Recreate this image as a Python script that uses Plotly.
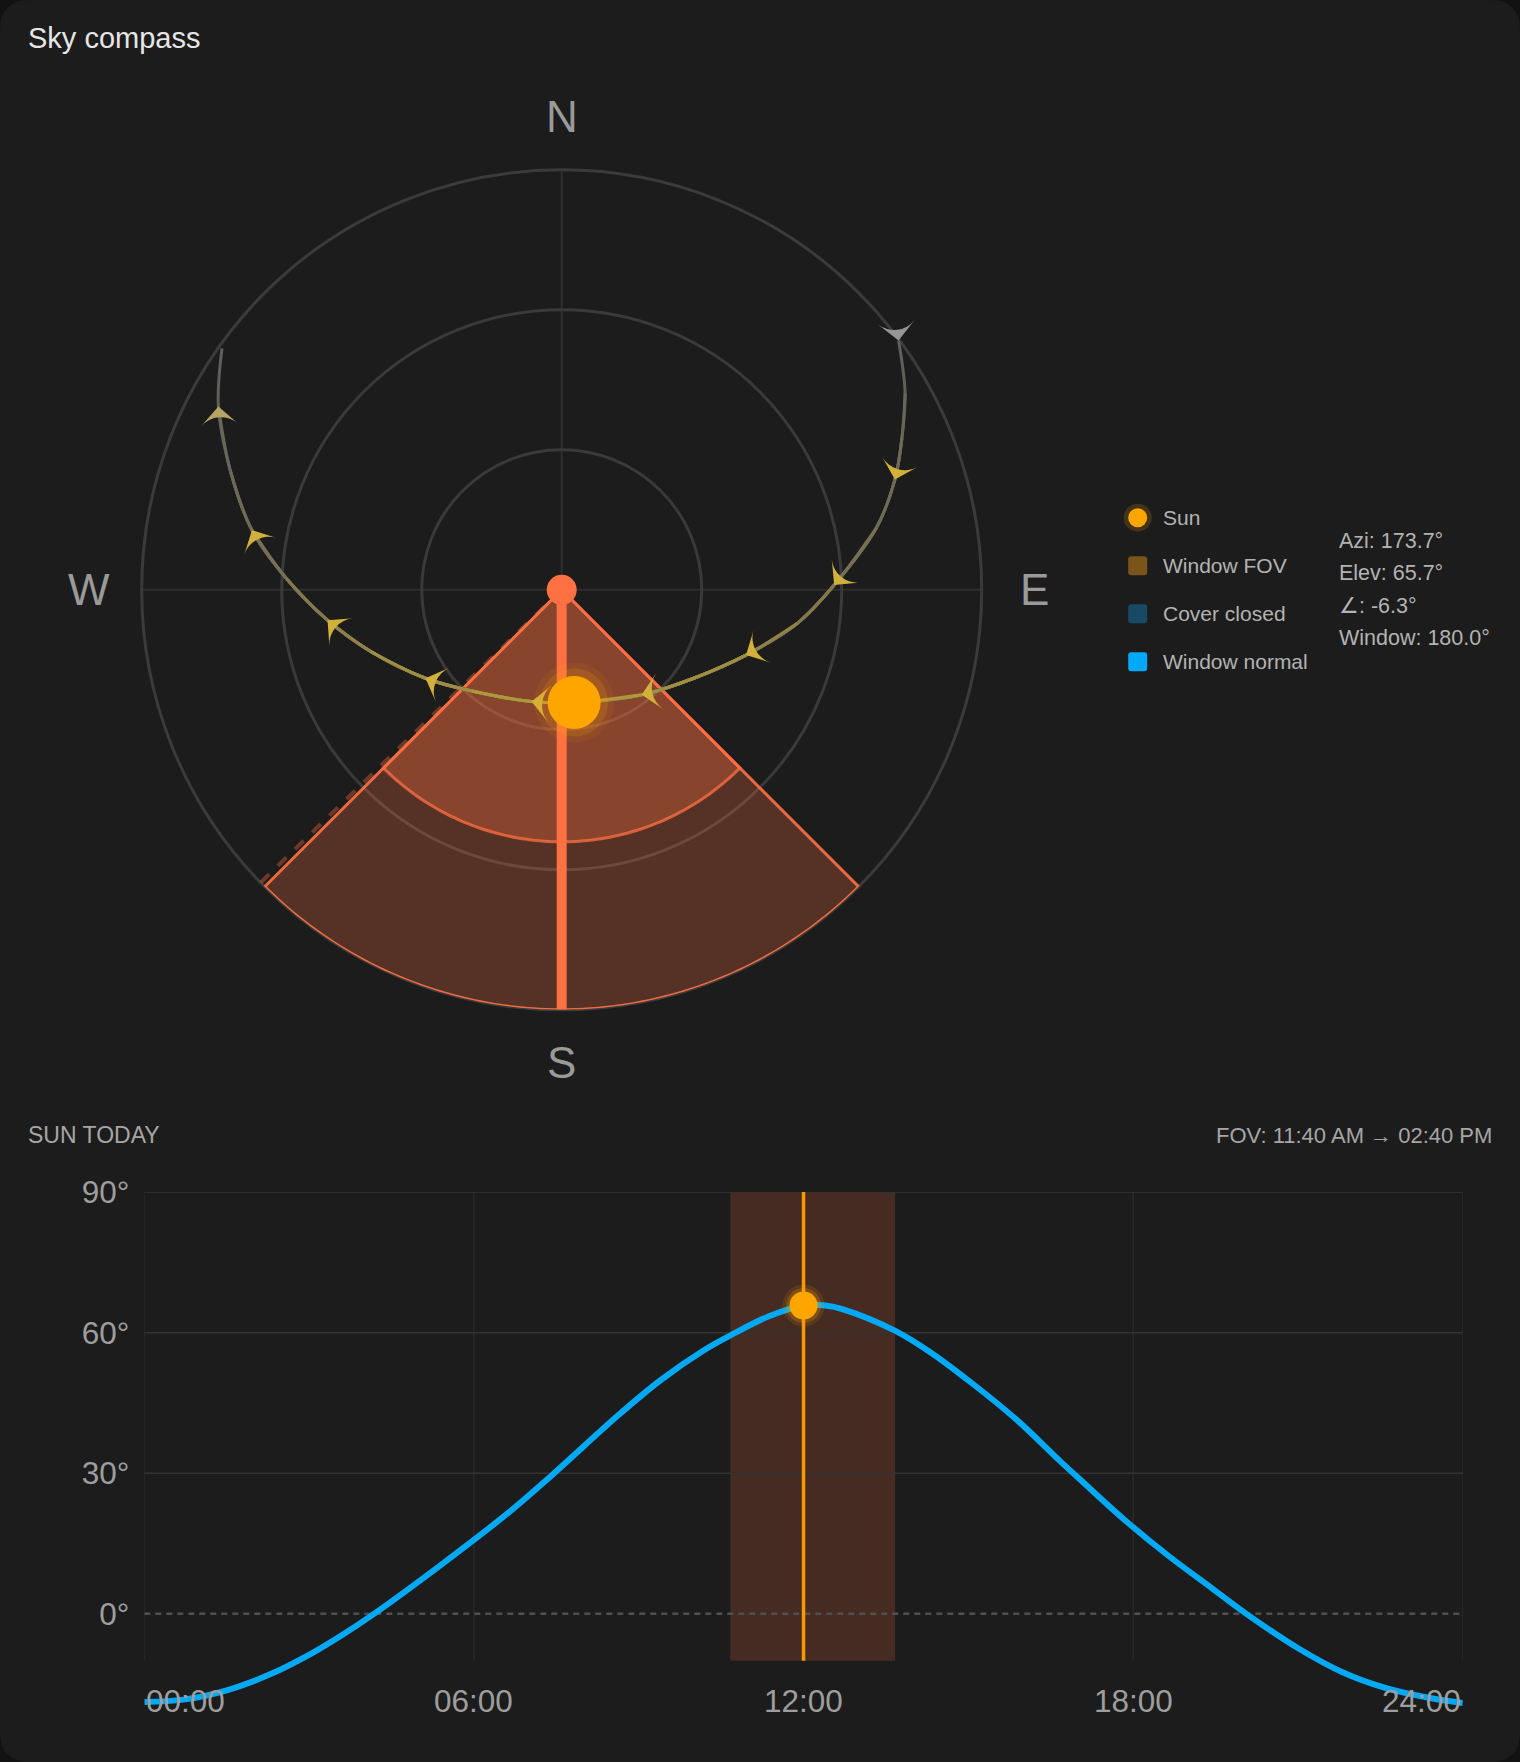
import numpy as np
import plotly.graph_objects as go

W, H = 1520, 1762

# ---------------- data ----------------
title_text = "Sky compass"
sun_az = 173.7
sun_elev = 65.7
rel_angle = -6.3
window_az = 180.0
fov_half = 45.0
fov_inner_elev = 36.0
cover_edge_az = 225.8

compass_labels = ["N", "E", "S", "W"]
compass_angles = [0, 90, 180, 270]

# sun path across the sky (azimuth deg, elevation deg) read from the compass
path_az = [53.5, 60.2, 66.0, 71.7, 78.9, 89.0, 98.1, 109.5, 123.0, 142.7, 173.5,
           195.1, 221.6, 237.0, 252.1, 262.6, 272.3, 280.9, 289.6, 298.1, 305.4]
path_elev = [0.2, 5.2, 10.2, 14.8, 21.3, 31.6, 39.0, 48.1, 55.6, 61.7, 65.7,
             65.2, 61.0, 55.2, 47.0, 39.4, 31.0, 22.4, 14.7, 6.6, 0.7]
arrow_idx = [0, 3, 5, 7, 9, 11, 13, 15, 17, 19]

# elevation over the day
day_hours = [0.0, 0.71, 1.50, 2.29, 3.08, 3.63, 4.18, 5.45, 6.63, 7.42, 8.60, 9.39,
             10.18, 10.68, 11.37, 12.0, 12.4, 12.72, 13.67, 14.30, 15.09, 15.88, 16.67,
             17.06, 17.85, 18.64, 19.43, 20.06, 21.01, 21.80, 22.59, 23.38, 24.0]
day_elev = [-18.8, -18.3, -16.3, -12.9, -8.2, -4.3, 0.0, 10.9, 21.6, 29.6, 42.1, 49.8,
            56.2, 59.5, 63.5, 65.8, 65.8, 65.0, 60.4, 55.9, 49.0, 41.4, 32.6,
            28.4, 20.0, 12.4, 5.5, 0.0, -7.4, -12.4, -15.8, -17.9, -19.0]
now_hour = 12.0
fov_start_h = 10.667
fov_end_h = 13.667
fov_text = "FOV: 11:40 AM \u2192 02:40 PM"

x_tick_hours = [0, 6, 12, 18, 24]
x_tick_labels = ["00:00", "06:00", "12:00", "18:00", "24:00"]
y_tick_vals = [0, 30, 60, 90]
y_tick_labels = ["0\u00b0", "30\u00b0", "60\u00b0", "90\u00b0"]

legend_names = ["Sun", "Window FOV", "Cover closed", "Window normal"]
legend_colors = ["#ffa500", "#7a5418", "#184a64", "#03a9f4"]
stats_lines = [f"Azi: {sun_az:.1f}\u00b0", f"Elev: {sun_elev:.1f}\u00b0",
               f"\u2220: {rel_angle:.1f}\u00b0", f"Window: {window_az:.1f}\u00b0"]

# ---------------- helpers ----------------
FONT = "Liberation Sans, Arial, sans-serif"
CX, CY, R = 561.7, 589.8, 420.0   # compass centre / radius in page pixels


def px(x):
    return x / W


def py(y):
    return 1 - y / H


def zen(e):
    return 90 - np.asarray(e, dtype=float)


def lerp(c1, c2, t):
    t = float(np.clip(t, 0, 1))
    return "rgb(%d,%d,%d)" % tuple(round(a + (b - a) * t) for a, b in zip(c1, c2))


def rrect_path(x0, y0, x1, y1, r):
    X = lambda v: px(v)
    Y = lambda v: py(v)
    return (f"M{X(x0 + r)},{Y(y0)} L{X(x1 - r)},{Y(y0)} Q{X(x1)},{Y(y0)} {X(x1)},{Y(y0 + r)} "
            f"L{X(x1)},{Y(y1 - r)} Q{X(x1)},{Y(y1)} {X(x1 - r)},{Y(y1)} "
            f"L{X(x0 + r)},{Y(y1)} Q{X(x0)},{Y(y1)} {X(x0)},{Y(y1 - r)} "
            f"L{X(x0)},{Y(y0 + r)} Q{X(x0)},{Y(y0)} {X(x0 + r)},{Y(y0)} Z")


fig = go.Figure()
CORAL = "#ff7043"

# ---------------- compass ----------------
arc = np.linspace(window_az - fov_half, window_az + fov_half, 91)
fig.add_trace(go.Scatterpolar(r=[0, 90], theta=[cover_edge_az, cover_edge_az], mode="lines",
                              line=dict(color="rgba(255,112,67,0.35)", width=4, dash="dash"),
                              subplot="polar", hoverinfo="skip", showlegend=False))
fig.add_trace(go.Scatterpolar(
    r=np.concatenate([[0], np.full(arc.size, 90.0), [0]]),
    theta=np.concatenate([[window_az], arc, [window_az]]),
    mode="lines", fill="toself", fillcolor="rgba(255,112,67,0.26)",
    line=dict(color="rgba(255,112,67,0.9)", width=3),
    subplot="polar", hoverinfo="skip", showlegend=False))
fig.add_trace(go.Scatterpolar(
    r=np.concatenate([[0], np.full(arc.size, float(zen(fov_inner_elev))), [0]]),
    theta=np.concatenate([[window_az], arc, [window_az]]),
    mode="lines", fill="toself", fillcolor="rgba(255,112,67,0.30)",
    line=dict(color="rgba(255,112,67,0.75)", width=3),
    subplot="polar", hoverinfo="skip", showlegend=False))

GREY = (95, 95, 92)
GOLD = (175, 152, 58)
pe = np.array(path_elev)
for thr in [-1, 5, 10, 16, 24, 34, 46, 58]:
    idx = np.where(pe >= thr)[0]
    fig.add_trace(go.Scatterpolar(
        r=zen(pe[idx]), theta=np.array(path_az)[idx], mode="lines",
        line=dict(color=lerp(GREY, GOLD, (thr + 2) / 60), width=3, shape="spline"),
        subplot="polar", hoverinfo="skip", showlegend=False))

paz = np.radians(path_az)
pr = zen(path_elev)
sx, sy = pr * np.sin(paz), pr * np.cos(paz)
angles, acolors = [], []
for i in arrow_idx:
    a, b = max(i - 1, 0), min(i + 1, len(path_az) - 1)
    angles.append(float(np.degrees(np.arctan2(sx[b] - sx[a], sy[b] - sy[a]))))
    acolors.append(lerp((150, 150, 150), (210, 176, 60), path_elev[i] / 12))
fig.add_trace(go.Scatterpolar(
    r=pr[arrow_idx], theta=np.array(path_az)[arrow_idx], mode="markers",
    marker=dict(symbol="arrow-wide", size=26, angle=angles, color=acolors, line=dict(width=0)),
    subplot="polar", hoverinfo="skip", showlegend=False))

fig.add_trace(go.Scatterpolar(r=[0, 90], theta=[window_az, window_az], mode="lines",
                              line=dict(color=CORAL, width=10), subplot="polar",
                              hoverinfo="skip", showlegend=False))
fig.add_trace(go.Scatterpolar(r=[0], theta=[window_az], mode="markers",
                              marker=dict(color=CORAL, size=30, line=dict(width=0)),
                              subplot="polar", hoverinfo="skip", showlegend=False))
for sz, col in [(80, "rgba(255,165,0,0.08)"), (68, "rgba(255,165,0,0.16)"), (53, "#ffa500")]:
    fig.add_trace(go.Scatterpolar(r=[float(zen(sun_elev))], theta=[sun_az], mode="markers",
                                  marker=dict(color=col, size=sz, line=dict(width=0)),
                                  subplot="polar", hoverinfo="skip", showlegend=False))

# ---------------- day chart ----------------
fig.add_trace(go.Scatter(x=day_hours, y=day_elev, mode="lines",
                         line=dict(color="#03a9f4", width=6, shape="spline", smoothing=1.0),
                         hoverinfo="skip", showlegend=False))
now_elev = float(np.interp(now_hour, day_hours, day_elev))
for sz, col in [(42, "rgba(255,165,0,0.12)"), (35, "rgba(255,165,0,0.22)"), (28, "#ffa500")]:
    fig.add_trace(go.Scatter(x=[now_hour], y=[now_elev], mode="markers",
                             marker=dict(color=col, size=sz, line=dict(width=0)),
                             hoverinfo="skip", showlegend=False))

shapes = []
shapes.append(dict(type="path", xref="paper", yref="paper", path=rrect_path(0, 0, W, H, 30),
                   fillcolor="#1c1c1c", line=dict(width=0), layer="below"))
shapes.append(dict(type="rect", xref="x", yref="y", x0=fov_start_h, x1=fov_end_h, y0=-10, y1=90,
                   fillcolor="rgba(255,112,67,0.185)", line=dict(width=0), layer="below"))
for h in x_tick_hours:
    shapes.append(dict(type="line", xref="x", yref="y", x0=h, x1=h, y0=-10, y1=90,
                       line=dict(color="#292929", width=1.5), layer="below"))
for v in y_tick_vals[1:]:
    shapes.append(dict(type="line", xref="x", yref="y", x0=0, x1=24, y0=v, y1=v,
                       line=dict(color="#333333", width=1.5), layer="below"))
shapes.append(dict(type="line", xref="x", yref="y", x0=0, x1=24, y0=0, y1=0,
                   line=dict(color="#505050", width=2.5, dash="6px,5px"), layer="below"))
shapes.append(dict(type="line", xref="x", yref="y", x0=now_hour, x1=now_hour, y0=-10, y1=90,
                   line=dict(color="#ff9800", width=3.5), layer="below"))

annotations = []
annotations.append(dict(text=title_text, x=px(26), y=py(38), xref="paper", yref="paper",
                        xanchor="left", yanchor="middle", showarrow=False,
                        font=dict(size=29, color="#e6e6e6", family=FONT)))
annotations.append(dict(text="SUN TODAY", x=px(26), y=py(1135), xref="paper", yref="paper",
                        xanchor="left", yanchor="middle", showarrow=False,
                        font=dict(size=23, color="#a6a6a6", family=FONT)))
annotations.append(dict(text=fov_text, x=px(1494), y=py(1135), xref="paper", yref="paper",
                        xanchor="right", yanchor="middle", showarrow=False,
                        font=dict(size=22, color="#a6a6a6", family=FONT)))
for i, (h, lab) in enumerate(zip(x_tick_hours, x_tick_labels)):
    anc = "left" if i == 0 else ("right" if i == len(x_tick_hours) - 1 else "center")
    annotations.append(dict(text=lab, x=h, y=py(1701), xref="x", yref="paper",
                            xanchor=anc, yanchor="middle", showarrow=False,
                            font=dict(size=31.5, color="#9e9e9e", family=FONT)))
LBL_R = 473.0
for lab, ang in zip(compass_labels, compass_angles):
    t = np.radians(ang)
    annotations.append(dict(text=lab, x=px(CX + LBL_R * np.sin(t)), y=py(CY - LBL_R * np.cos(t)),
                            xref="paper", yref="paper", xanchor="center", yanchor="middle",
                            showarrow=False, font=dict(size=44, color="#9a9a9a", family=FONT)))

leg_x, leg_y0, leg_dy = 1137.7, 517.7, 48.0
for i, (name, col) in enumerate(zip(legend_names, legend_colors)):
    cy = leg_y0 + i * leg_dy
    if i == 0:
        shapes.append(dict(type="circle", xref="paper", yref="paper",
                           x0=px(leg_x - 14), x1=px(leg_x + 14), y0=py(cy + 14), y1=py(cy - 14),
                           fillcolor="rgba(255,165,0,0.18)", line=dict(width=0)))
        shapes.append(dict(type="circle", xref="paper", yref="paper",
                           x0=px(leg_x - 9.5), x1=px(leg_x + 9.5), y0=py(cy + 9.5), y1=py(cy - 9.5),
                           fillcolor=col, line=dict(width=0)))
    else:
        shapes.append(dict(type="path", xref="paper", yref="paper",
                           path=rrect_path(leg_x - 9.5, cy - 9.5, leg_x + 9.5, cy + 9.5, 3),
                           fillcolor=col, line=dict(width=0)))
    annotations.append(dict(text=name, x=px(1161), y=py(cy), xref="paper", yref="paper",
                            xanchor="left", yanchor="middle", showarrow=False,
                            font=dict(size=21, color="#b3b3b3", family=FONT)))
for i, line in enumerate(stats_lines):
    annotations.append(dict(text=line, x=px(1337), y=py(540.5 + i * 32.5), xref="paper",
                            yref="paper", xanchor="left", yanchor="middle", showarrow=False,
                            font=dict(size=21.5, color="#b3b3b3", family=FONT)))

fig.update_layout(
    width=W, height=H, autosize=False,
    margin=dict(l=0, r=0, t=0, b=0, pad=0, autoexpand=False),
    paper_bgcolor="#121212", plot_bgcolor="rgba(0,0,0,0)",
    font=dict(family=FONT, color="#9e9e9e"),
    showlegend=False,
    polar=dict(
        domain=dict(x=[px(CX - R), px(CX + R)], y=[py(CY + R), py(CY - R)]),
        bgcolor="rgba(0,0,0,0)",
        radialaxis=dict(range=[0, 90], tickvals=[30, 60], showticklabels=False, ticks="",
                        showline=False, gridcolor="#3a3a3a", gridwidth=3, layer="below traces"),
        angularaxis=dict(rotation=90, direction="clockwise", tickmode="array",
                         tickvals=compass_angles, showticklabels=False, ticks="",
                         gridcolor="#2e2e2e", gridwidth=2, showline=True,
                         linecolor="#3b3b3b", linewidth=3, layer="below traces"),
    ),
    xaxis=dict(domain=[px(144.3), px(1462.8)], range=[0, 24], showgrid=False, zeroline=False,
               showticklabels=False, ticks="", showline=False, fixedrange=True,
               automargin=False),
    yaxis=dict(domain=[py(1707.6), py(1192.1)], range=[-20, 90], tickmode="array",
               tickvals=y_tick_vals, ticktext=y_tick_labels, showgrid=False, zeroline=False,
               showline=False, ticks="", ticklabelstandoff=14, automargin=False,
               tickfont=dict(size=31.5, color="#9e9e9e", family=FONT), fixedrange=True),
    shapes=shapes,
    annotations=annotations,
)

fig.write_html("out.html")
